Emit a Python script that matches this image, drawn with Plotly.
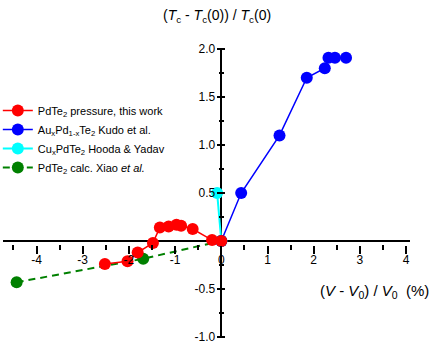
import plotly.graph_objects as go

# ---- data ----
red_x = [-2.52, -2.03, -1.81, -1.48, -1.33, -1.14, -0.97, -0.87, -0.62, -0.20, 0.0]
red_y = [-0.24, -0.21, -0.12, -0.02, 0.14, 0.15, 0.17, 0.16, 0.125, 0.01, 0.0]

blue_x = [0.0, 0.43, 1.26, 1.85, 2.24, 2.32, 2.46, 2.70]
blue_y = [0.0, 0.50, 1.10, 1.70, 1.80, 1.91, 1.91, 1.91]

cyan_x = [0.0, -0.09]
cyan_y = [0.0, 0.50]

green_x = [-4.43, -1.69, 0.0]
green_y = [-0.43, -0.185, 0.0]

names = [
    "PdTe<sub>2</sub> pressure, this work",
    "Au<sub>x</sub>Pd<sub>1-x</sub>Te<sub>2</sub> Kudo et al.",
    "Cu<sub>x</sub>PdTe<sub>2</sub> Hooda &amp; Yadav",
    "PdTe<sub>2</sub> calc. Xiao <i>et al.</i>",
]

x_tickvals = [-4, -3, -2, -1, 0, 1, 2, 3, 4]
x_ticktext = ["-4", "-3", "-2", "-1", "0", "1", "2", "3", "4"]
y_tickvals = [-1.0, -0.5, 0.5, 1.0, 1.5, 2.0]
y_ticktext = ["-1.0", "-0.5", "0.5", "1.0", "1.5", "2.0"]
x_minor_vals = [-4.5, -3.5, -2.5, -1.5, -0.5, 0.5, 1.5, 2.5, 3.5]
y_minor_vals = [-0.75, -0.25, 0.25, 0.75, 1.25, 1.75]

FONT = "Liberation Sans, Arial, sans-serif"
W, H = 436, 350

fig = go.Figure()

fig.add_trace(go.Scatter(x=green_x, y=green_y, mode="lines+markers", name=names[3],
                         line=dict(color="#008000", width=2, dash="7px,5px"),
                         marker=dict(size=12, color="#008000"), cliponaxis=False))
fig.add_trace(go.Scatter(x=cyan_x, y=cyan_y, mode="lines+markers", name=names[2],
                         line=dict(color="#00ffff", width=2),
                         marker=dict(size=12, color="#00ffff"), cliponaxis=False))
fig.add_trace(go.Scatter(x=blue_x, y=blue_y, mode="lines+markers", name=names[1],
                         line=dict(color="#0000ff", width=1.5),
                         marker=dict(size=12, color="#0000ff"), cliponaxis=False))
fig.add_trace(go.Scatter(x=red_x, y=red_y, mode="lines+markers", name=names[0],
                         line=dict(color="#ff0000", width=1.5),
                         marker=dict(size=12, color="#ff0000"), cliponaxis=False))
# invisible traces hosting the tick-only axes
for k in ("2", "3"):
    fig.add_trace(go.Scatter(x=red_x[-1:], y=red_y[-1:], xaxis="x" + k, yaxis="y" + k,
                             mode="markers", marker=dict(opacity=0),
                             showlegend=False, hoverinfo="skip"))

x0px, xscale = 221.3, 46.2
y0px, yscale = 241.0, 96.0
xr = [(3 - x0px) / xscale, (410 - x0px) / xscale]
xdom = [3 / W, 410 / W]
yr = [-1.0, 2.0]
ydom = [(H - (y0px + yscale)) / H, (H - (y0px - 2 * yscale)) / H]

MAJ, MIN = 4.0, 2.5  # half-lengths of ticks (they cross the axis line)


def tick_x(vals, half):
    return dict(range=xr, domain=xdom, anchor="free", position=(H - y0px - half) / H,
                overlaying="x", showgrid=False, showline=False, zeroline=False,
                tickvals=vals, ticks="outside", ticklen=2 * half, tickwidth=1.5,
                tickcolor="black", showticklabels=False)


def tick_y(vals, half):
    return dict(range=yr, domain=ydom, anchor="free", position=(x0px + half) / W,
                overlaying="y", showgrid=False, showline=False, zeroline=False,
                tickvals=vals, ticks="outside", ticklen=2 * half, tickwidth=1.5,
                tickcolor="black", showticklabels=False)


fig.update_layout(
    width=W, height=H,
    margin=dict(l=0, r=0, t=0, b=0, autoexpand=False),
    paper_bgcolor="white", plot_bgcolor="white",
    font=dict(family=FONT, size=12, color="black"),
    showlegend=True,
    legend=dict(x=-0.005, y=1 - 96 / H, xanchor="left", yanchor="top",
                traceorder="reversed", font=dict(size=11, family=FONT),
                bgcolor="rgba(0,0,0,0)", borderwidth=0),
    xaxis=dict(range=xr, domain=xdom, anchor="free", position=(H - y0px) / H,
               showgrid=False, showline=False,
               zeroline=True, zerolinecolor="black", zerolinewidth=2,
               tickvals=x_tickvals, ticktext=x_ticktext, ticks="",
               ticklabelstandoff=10, tickfont=dict(size=12)),
    yaxis=dict(range=yr, domain=ydom, anchor="free", position=x0px / W,
               showgrid=False, showline=False,
               zeroline=True, zerolinecolor="black", zerolinewidth=2,
               tickvals=y_tickvals, ticktext=y_ticktext, ticks="",
               ticklabelstandoff=6, tickfont=dict(size=12)),
    xaxis2=tick_x(x_tickvals, MAJ),
    yaxis2=tick_y(y_tickvals, MAJ),
    xaxis3=tick_x(x_minor_vals, MIN),
    yaxis3=tick_y(y_minor_vals, MIN),
    annotations=[
        dict(text="(<i>T</i><sub>c</sub> - <i>T</i><sub>c</sub>(0)) / <i>T</i><sub>c</sub>(0)",
             xref="paper", yref="paper", x=216.7 / W, y=1 - 16 / H,
             xanchor="center", yanchor="middle", showarrow=False,
             font=dict(size=14, family=FONT)),
        dict(text="(<i>V</i>&nbsp;- <i>V</i><sub>0</sub>)&nbsp;/&nbsp;<i>V</i><sub>0</sub>&nbsp;&nbsp;(%)",
             xref="paper", yref="paper", x=374 / W, y=1 - 291 / H,
             xanchor="center", yanchor="middle", showarrow=False,
             font=dict(size=15, family=FONT)),
    ],
)

fig.write_html("out.html", config={"displayModeBar": False},
               post_script="document.body.style.margin='0px';")
